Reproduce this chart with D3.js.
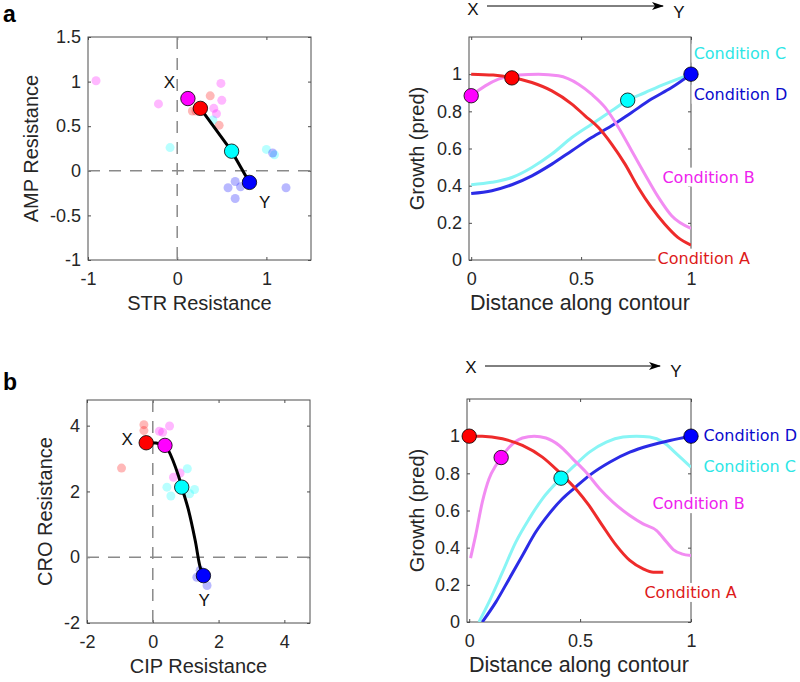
<!DOCTYPE html>
<html>
<head>
  <meta charset="utf-8" />
  <script src="https://d3js.org/d3.v7.min.js"></script>
  <style>
    body { margin: 0; background: #fff; }
    svg { display: block; font-family: "Liberation Sans", Arial, sans-serif; }
    .tick text { font-size: 18px; fill: #262626; }
    .tick line { stroke: #4d4d4d; }
    .frame { fill: none; stroke: #4d4d4d; stroke-width: 1; }
    .zero { stroke: #8a8a8a; stroke-width: 1.5; stroke-dasharray: 12, 9; }
    .alabel { font-size: 20px; fill: #262626; text-anchor: middle; }
    .alabel.wide { font-size: 21.5px; }
    .xy { font-size: 17px; fill: #111; text-anchor: middle; }
    .cond { font-family: "DejaVu Sans", sans-serif; font-size: 16px; }
  </style>
</head>
<body>
  <svg id="fig" width="800" height="682"></svg>
  <script>
    // ---- data ----
    const conditions = ["A", "B", "C", "D"];
    const condLabels = ["Condition A", "Condition B", "Condition C", "Condition D"];

    // panel a, left: STR vs AMP resistance
    const strAmpCloudA = [[0.37, 0.84], [0.17, 0.67], [0.21, 0.67], [0.47, 0.51]];
    const strAmpCloudB = [[-0.91, 1.01], [-0.21, 0.75], [0.49, 0.98], [0.50, 0.79], [0.41, 0.70], [0.44, 0.64]];
    const strAmpCloudC = [[-0.08, 0.26], [0.40, 0.57], [1.00, 0.24], [1.09, 0.18]];
    const strAmpCloudD = [[1.07, 0.20], [0.65, -0.12], [0.57, -0.19], [0.71, -0.18], [0.65, -0.31], [1.22, -0.19]];
    const strAmpOptima = [["B", 0.12, 0.81], ["A", 0.26, 0.70], ["C", 0.61, 0.22], ["D", 0.81, -0.13]];
    const strAmpContour = [[0.26, 0.70], [0.61, 0.22], [0.81, -0.13]];

    // panel b, left: CIP vs CRO resistance
    const cipCroCloudA = [[-0.27, 4.03], [-0.95, 2.71], [-0.27, 3.85]];
    const cipCroCloudB = [[0.20, 3.83], [0.30, 3.80], [0.51, 3.99], [0.83, 2.56], [0.63, 2.43]];
    const cipCroCloudC = [[1.05, 2.69], [0.43, 2.13], [0.55, 1.86], [1.27, 2.06], [1.12, 1.93]];
    const cipCroCloudD = [[1.34, -0.61], [1.65, -0.86], [1.44, -0.40]];
    const cipCroOptima = [["A", -0.20, 3.48], ["B", 0.37, 3.40], ["C", 0.88, 2.13], ["D", 1.54, -0.56]];
    const cipCroContour = [[-0.20, 3.48], [0.10, 3.47], [0.37, 3.40], [0.48, 3.24], [0.78, 2.48], [0.88, 2.13],
      [1.09, 1.42], [1.29, 0.51], [1.44, -0.30], [1.54, -0.56]];

    // panel a, right: growth along contour
    const growthA1 = [[0, 1.0], [0.1, 0.995], [0.185, 0.982], [0.276, 0.955], [0.367, 0.91], [0.458, 0.839], [0.518, 0.776],
      [0.579, 0.713], [0.639, 0.624], [0.70, 0.516], [0.76, 0.39], [0.82, 0.283], [0.88, 0.194], [0.94, 0.122], [1.0, 0.08]];
    const growthB1 = [[0, 0.884], [0.064, 0.937], [0.124, 0.973], [0.215, 0.995], [0.306, 1.0], [0.397, 0.991], [0.488, 0.946],
      [0.548, 0.892], [0.609, 0.821], [0.67, 0.713], [0.73, 0.588], [0.79, 0.462], [0.852, 0.337], [0.912, 0.238], [1.0, 0.17]];
    const growthC1 = [[0, 0.405], [0.094, 0.418], [0.185, 0.444], [0.276, 0.498], [0.367, 0.57], [0.458, 0.659], [0.548, 0.731],
      [0.639, 0.803], [0.712, 0.86], [0.79, 0.90], [0.88, 0.946], [1.0, 1.0]];
    const growthD1 = [[0, 0.358], [0.094, 0.373], [0.185, 0.405], [0.276, 0.453], [0.367, 0.516], [0.458, 0.588], [0.548, 0.659],
      [0.639, 0.722], [0.73, 0.794], [0.82, 0.866], [0.912, 0.928], [1.0, 1.0]];
    const growthMarks1 = [["B", 0, 0.884], ["A", 0.185, 0.98], ["C", 0.712, 0.86], ["D", 1.0, 1.0]];

    // panel b, right
    const growthA2 = [[0, 1.0], [0.059, 1.0], [0.15, 0.986], [0.24, 0.95], [0.33, 0.887], [0.406, 0.806], [0.48, 0.717],
      [0.54, 0.627], [0.60, 0.52], [0.663, 0.412], [0.724, 0.331], [0.784, 0.286], [0.83, 0.268], [0.875, 0.268]];
    const growthB2 = [[0.006, 0.344], [0.029, 0.466], [0.059, 0.645], [0.089, 0.77], [0.12, 0.842], [0.144, 0.885], [0.18, 0.94],
      [0.24, 0.99], [0.293, 1.0], [0.346, 0.99], [0.406, 0.95], [0.467, 0.878], [0.527, 0.806], [0.588, 0.717], [0.648, 0.645],
      [0.724, 0.573], [0.784, 0.528], [0.845, 0.492], [0.89, 0.43], [0.92, 0.39], [0.958, 0.367], [1.0, 0.358]];
    const growthC2 = [[0.044, 0], [0.089, 0.107], [0.15, 0.268], [0.21, 0.43], [0.27, 0.555], [0.33, 0.663], [0.414, 0.774],
      [0.467, 0.833], [0.542, 0.914], [0.618, 0.968], [0.693, 0.995], [0.754, 1.0], [0.814, 0.995], [0.875, 0.968],
      [0.935, 0.905], [1.0, 0.833]];
    const growthD2 = [[0.059, 0], [0.12, 0.107], [0.18, 0.232], [0.24, 0.358], [0.30, 0.484], [0.36, 0.582], [0.42, 0.663],
      [0.48, 0.726], [0.542, 0.789], [0.633, 0.86], [0.724, 0.914], [0.814, 0.95], [0.905, 0.977], [1.0, 1.0]];
    const growthMarks2 = [["A", 0, 1.0], ["B", 0.144, 0.885], ["C", 0.414, 0.774], ["D", 1.0, 1.0]];

    const resTicksA = [-1, 0, 1];
    const resTicksAy = [-1, -0.5, 0, 0.5, 1, 1.5];
    const resTicksB = [-2, 0, 2, 4];
    const distTicks = [0, 0.5, 1];
    const growthTicks = [0, 0.2, 0.4, 0.6, 0.8, 1];

    // ---- styles ----
    const markColor = { A: "#ff0000", B: "#ff00ff", C: "#00ffff", D: "#0000ff" };
    const curveColor = { A: "#ee2b2b", B: "#f28cf2", C: "#88f5f5", D: "#2b2be6" };
    const textColor = { A: "#dd1a1a", B: "#ee22ee", C: "#2ee6e6", D: "#0b0bcc" };

    const svg = d3.select("#fig");
    let clipId = 0;

    function makePanel(box, xDom, yDom, xTicks, yTicks, xLabel, yLabel, yLabelX, xLabelClass) {
      const x = d3.scaleLinear().domain(xDom).range([box.x0, box.x1]);
      const y = d3.scaleLinear().domain(yDom).range([box.y1, box.y0]);
      const g = svg.append("g");
      const fmt = d => String(d);

      g.append("g").attr("transform", `translate(0,${box.y1})`)
        .call(d3.axisBottom(x).tickValues(xTicks).tickSize(-3).tickPadding(12).tickFormat(fmt))
        .call(a => a.select(".domain").remove());
      g.append("g").attr("transform", `translate(0,${box.y0})`)
        .call(d3.axisTop(x).tickValues(xTicks).tickSize(-3).tickFormat(""))
        .call(a => a.select(".domain").remove());
      g.append("g").attr("transform", `translate(${box.x0},0)`)
        .call(d3.axisLeft(y).tickValues(yTicks).tickSize(-3).tickPadding(7).tickFormat(fmt))
        .call(a => a.select(".domain").remove());
      g.append("g").attr("transform", `translate(${box.x1},0)`)
        .call(d3.axisRight(y).tickValues(yTicks).tickSize(-3).tickFormat(""))
        .call(a => a.select(".domain").remove());
      g.selectAll(".tick text").attr("font-family", null).attr("font-size", null);

      g.append("rect").attr("class", "frame")
        .attr("x", box.x0).attr("y", box.y0)
        .attr("width", box.x1 - box.x0).attr("height", box.y1 - box.y0);

      g.append("text").attr("class", "alabel " + (xLabelClass || ""))
        .attr("x", (box.x0 + box.x1) / 2).attr("y", box.y1 + 50)
        .text(xLabel);
      g.append("text").attr("class", "alabel")
        .attr("transform", `translate(${yLabelX},${(box.y0 + box.y1) / 2})rotate(-90)`)
        .text(yLabel);

      const id = "clip" + (clipId++);
      svg.append("clipPath").attr("id", id).append("rect")
        .attr("x", box.x0).attr("y", box.y0)
        .attr("width", box.x1 - box.x0).attr("height", box.y1 - box.y0);
      const plot = svg.append("g").attr("clip-path", `url(#${id})`);
      return { x, y, g, plot, box };
    }

    function zeroLines(p) {
      p.plot.append("line").attr("class", "zero")
        .attr("x1", p.x(0)).attr("x2", p.x(0)).attr("y1", p.box.y0).attr("y2", p.box.y1);
      p.plot.append("line").attr("class", "zero")
        .attr("x1", p.box.x0).attr("x2", p.box.x1).attr("y1", p.y(0)).attr("y2", p.y(0));
    }

    function clouds(p, sets) {
      conditions.forEach((c, i) => {
        p.plot.selectAll(null).data(sets[i]).join("circle")
          .attr("cx", d => p.x(d[0])).attr("cy", d => p.y(d[1]))
          .attr("r", 4.5).attr("fill", markColor[c]).attr("fill-opacity", 0.28);
      });
    }

    function optima(p, marks) {
      svg.append("g").selectAll("circle").data(marks).join("circle")
        .attr("cx", d => p.x(d[1])).attr("cy", d => p.y(d[2]))
        .attr("r", 7.2).attr("fill", d => markColor[d[0]])
        .attr("stroke", "#000").attr("stroke-width", 0.8);
    }

    function contour(p, pts, curve) {
      p.plot.append("path").datum(pts)
        .attr("fill", "none").attr("stroke", "#000").attr("stroke-width", 3)
        .attr("d", d3.line().x(d => p.x(d[0])).y(d => p.y(d[1])).curve(curve));
    }

    function growthCurves(p, series) {
      const line = d3.line().x(d => p.x(d[0])).y(d => p.y(d[1])).curve(d3.curveMonotoneX);
      ["C", "D", "B", "A"].forEach(c => {
        p.plot.append("path").datum(series[conditions.indexOf(c)])
          .attr("fill", "none").attr("stroke", curveColor[c]).attr("stroke-width", 3)
          .attr("d", line);
      });
    }

    function condText(p, places) {
      places.forEach(([c, dx, dy]) => {
        const g = svg.append("g");
        const t = g.append("text").attr("class", "cond")
          .attr("x", p.x(dx)).attr("y", p.y(dy))
          .attr("dominant-baseline", "central")
          .attr("fill", textColor[c])
          .text(condLabels[conditions.indexOf(c)]);
        const bb = t.node().getBBox();
        g.insert("rect", "text").attr("fill", "#fff")
          .attr("x", bb.x - 2).attr("y", bb.y).attr("width", bb.width + 4).attr("height", bb.height);
      });
    }

    function xyText(p, label, dx, dy) {
      svg.append("text").attr("class", "xy").attr("x", p.x(dx)).attr("y", p.y(dy)).text(label);
    }

    function arrow(x0, x1, yLine, yX, yY) {
      svg.append("line").attr("x1", x0).attr("x2", x1 - 2).attr("y1", yLine).attr("y2", yLine)
        .attr("stroke", "#000").attr("stroke-width", 1).attr("marker-end", "url(#head)");
      svg.append("text").attr("class", "xy").attr("x", x0 - 14).attr("y", yX).text("X");
      svg.append("text").attr("class", "xy").attr("x", x1 + 14).attr("y", yY).text("Y");
    }

    svg.append("defs").append("marker").attr("id", "head")
      .attr("viewBox", "0 0 12 8").attr("refX", 11).attr("refY", 4)
      .attr("markerWidth", 12).attr("markerHeight", 8).attr("markerUnits", "userSpaceOnUse")
      .attr("orient", "auto")
      .append("path").attr("d", "M0,0 L12,4 L0,8 L3,4 Z").attr("fill", "#000");

    // ---- panel a ----
    const pa1 = makePanel({ x0: 88, x1: 311, y0: 37, y1: 260 }, [-1, 1.5], [-1, 1.5],
      resTicksA, resTicksAy, "STR Resistance", "AMP Resistance", 38);
    zeroLines(pa1);
    clouds(pa1, [strAmpCloudA, strAmpCloudB, strAmpCloudC, strAmpCloudD]);
    contour(pa1, strAmpContour, d3.curveLinear);
    optima(pa1, strAmpOptima);
    xyText(pa1, "X", -0.086, 0.93);
    xyText(pa1, "Y", 0.98, -0.42);

    const pa2 = makePanel({ x0: 469, x1: 691, y0: 37, y1: 260 }, [-0.01, 1], [0, 1.2],
      distTicks, growthTicks, "Distance along contour", "Growth (pred)", 424, "wide");
    growthCurves(pa2, [growthA1, growthB1, growthC1, growthD1]);
    condText(pa2, [["C", 1.012, 1.113], ["D", 1.012, 0.892], ["B", 0.87, 0.446], ["A", 0.848, 0.01]]);
    optima(pa2, growthMarks1);
    arrow(487, 665, 6, 15, 18);

    // ---- panel b ----
    const pb1 = makePanel({ x0: 87, x1: 310, y0: 400, y1: 623 }, [-2, 4.78], [-2, 4.78],
      resTicksB, resTicksB, "CIP Resistance", "CRO Resistance", 52);
    zeroLines(pb1);
    clouds(pb1, [cipCroCloudA, cipCroCloudB, cipCroCloudC, cipCroCloudD]);
    contour(pb1, cipCroContour, d3.curveCatmullRom);
    optima(pb1, cipCroOptima);
    xyText(pb1, "X", -0.78, 3.40);
    xyText(pb1, "Y", 1.56, -1.47);

    const pb2 = makePanel({ x0: 467, x1: 691, y0: 399, y1: 622 }, [-0.01, 1], [0, 1.2],
      distTicks, growthTicks, "Distance along contour", "Growth (pred)", 424, "wide");
    growthCurves(pb2, [growthA2, growthB2, growthC2, growthD2]);
    condText(pb2, [["D", 1.056, 1.003], ["C", 1.056, 0.836], ["B", 0.826, 0.637], ["A", 0.79, 0.159]]);
    optima(pb2, growthMarks2);
    arrow(485, 662, 366, 373, 377);

    // panel letters
    svg.append("text").attr("x", 3).attr("y", 22).attr("font-size", 23).attr("font-weight", "bold").text("a");
    svg.append("text").attr("x", 3).attr("y", 390).attr("font-size", 23).attr("font-weight", "bold").text("b");
  </script>
</body>
</html>
